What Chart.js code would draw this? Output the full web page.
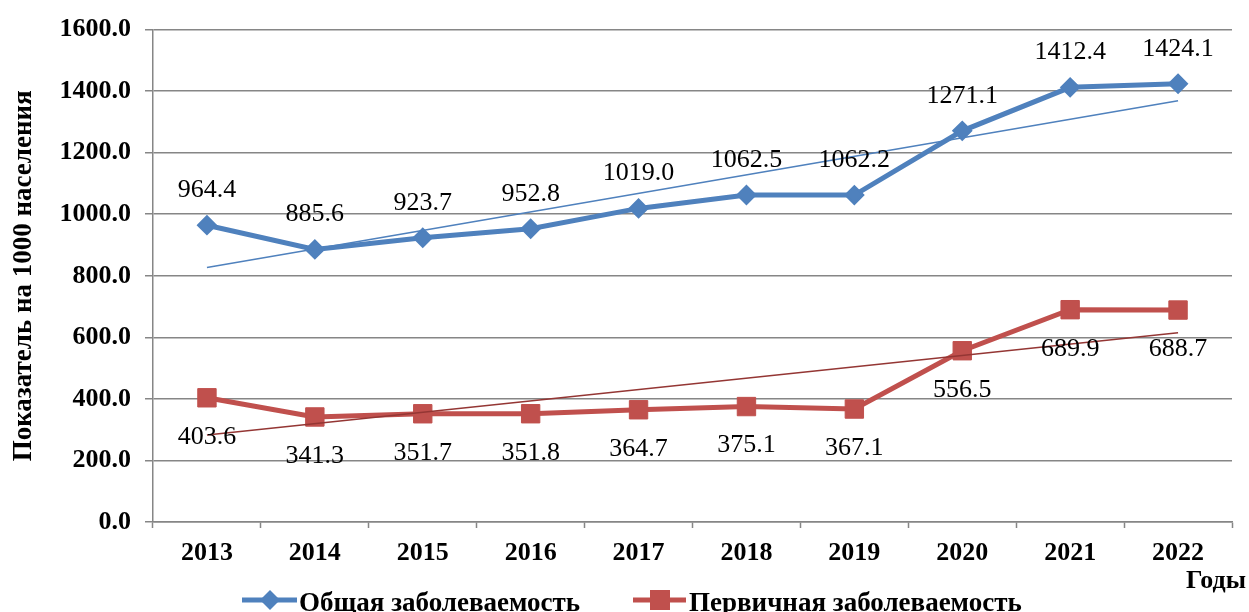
<!DOCTYPE html>
<html>
<head>
<meta charset="utf-8">
<style>
    body { margin: 0; background: #fff; }
    #wrap { width: 1249px; height: 612px; position: relative; }
</style>
</head>
<body>
<div id="wrap"><canvas id="myChart"></canvas></div>
<script src="https://cdn.jsdelivr.net/npm/chart.js@4.4.2/dist/chart.umd.min.js"></script>
<script>
// data
const years = ['2013', '2014', '2015', '2016', '2017', '2018', '2019', '2020', '2021', '2022'];
const totalRate = [964.4, 885.6, 923.7, 952.8, 1019.0, 1062.5, 1062.2, 1271.1, 1412.4, 1424.1];
const primaryRate = [403.6, 341.3, 351.7, 351.8, 364.7, 375.1, 367.1, 556.5, 689.9, 688.7];
// trend lines: only the end points (straight lines)
const totalTrend = [827, null, null, null, null, null, null, null, null, 1369];
const primaryTrend = [283, null, null, null, null, null, null, null, null, 615];
const seriesNames = ['Общая заболеваемость', 'Первичная заболеваемость'];

const BLUE = '#4F81BD';
const RED = '#C0504D';
const DARK_RED = '#943634';
const FONT = "'Liberation Serif', 'Times New Roman', serif";

// value labels above (blue) / below (red) the points
const valueLabels = {
    id: 'valueLabels',
    afterDatasetsDraw(chart) {
        const ctx = chart.ctx;
        ctx.save();
        ctx.font = '26px ' + FONT;
        ctx.fillStyle = '#000';
        ctx.textAlign = 'center';
        ctx.textBaseline = 'middle';
        [[0, -35], [1, 39]].forEach(([i, dy]) => {
            const meta = chart.getDatasetMeta(i);
            meta.data.forEach((pt, k) => {
                ctx.fillText(chart.data.datasets[i].data[k].toFixed(1), pt.x, pt.y + dy);
            });
        });
        ctx.restore();
    }
};

// legend and the "Годы" caption
const extras = {
    id: 'extras',
    afterDraw(chart) {
        const ctx = chart.ctx;
        ctx.save();
        // legend item 1
        ctx.strokeStyle = BLUE;
        ctx.lineWidth = 5;
        ctx.beginPath(); ctx.moveTo(242, 600); ctx.lineTo(297, 600); ctx.stroke();
        ctx.fillStyle = BLUE;
        ctx.beginPath();
        ctx.moveTo(270, 590); ctx.lineTo(280, 600); ctx.lineTo(270, 610); ctx.lineTo(260, 600);
        ctx.closePath(); ctx.fill();
        // legend item 2
        ctx.strokeStyle = RED;
        ctx.beginPath(); ctx.moveTo(633, 600); ctx.lineTo(686, 600); ctx.stroke();
        ctx.fillStyle = RED;
        ctx.fillRect(650, 590, 20, 20);

        ctx.fillStyle = '#000';
        ctx.font = 'bold 27px ' + FONT;
        ctx.textBaseline = 'alphabetic';
        ctx.textAlign = 'left';
        ctx.fillText(seriesNames[0], 299, 611);
        ctx.fillText(seriesNames[1], 689, 611);
        ctx.font = 'bold 26px ' + FONT;
        ctx.textAlign = 'right';
        ctx.fillText('Годы', 1246, 588);
        ctx.restore();
    }
};

const data = {
    labels: years,
    datasets: [
        {
            label: seriesNames[0],
            data: totalRate,
            borderColor: BLUE,
            backgroundColor: BLUE,
            borderWidth: 5,
            pointStyle: 'rectRot',
            pointRadius: 9,
            pointBorderWidth: 2,
            order: 2
        },
        {
            label: seriesNames[1],
            data: primaryRate,
            borderColor: RED,
            backgroundColor: RED,
            borderWidth: 5,
            pointStyle: 'rect',
            pointRadius: 13,
            pointBorderWidth: 1,
            order: 2
        },
        {
            label: 'trend1',
            data: totalTrend,
            borderColor: BLUE,
            borderWidth: 1.5,
            pointRadius: 0,
            spanGaps: true,
            order: 1
        },
        {
            label: 'trend2',
            data: primaryTrend,
            borderColor: DARK_RED,
            borderWidth: 1.5,
            pointRadius: 0,
            spanGaps: true,
            order: 1
        }
    ]
};

const config = {
    type: 'line',
    data,
    options: {
        responsive: true,
        maintainAspectRatio: false,
        animation: false,
        layout: { padding: { top: 27, right: 17, bottom: 0, left: 0 } },
        plugins: {
            legend: { display: false },
            tooltip: { enabled: false }
        },
        scales: {
            x: {
                offset: true,
                afterFit: (s) => { s.height = 90; },
                grid: {
                    offset: true,
                    drawOnChartArea: false,
                    tickLength: 6,
                    tickColor: '#868686',
                    tickWidth: 1.5
                },
                border: { color: '#868686', width: 1.5 },
                ticks: {
                    color: '#000',
                    padding: 10,
                    font: { family: FONT, size: 26, weight: 'bold' }
                }
            },
            y: {
                min: 0,
                max: 1600,
                afterFit: (s) => { s.width = 153; },
                grid: {
                    color: '#868686',
                    lineWidth: 1.5,
                    tickLength: 8
                },
                border: { color: '#868686', width: 1.5 },
                ticks: {
                    stepSize: 200,
                    color: '#000',
                    padding: 14,
                    font: { family: FONT, size: 26, weight: 'bold' },
                    callback: (v) => v.toFixed(1)
                },
                title: {
                    display: true,
                    text: 'Показатель на 1000 населения',
                    color: '#000',
                    padding: { top: 8, bottom: 0 },
                    font: { family: FONT, size: 27, weight: 'bold' }
                }
            }
        }
    },
    plugins: [valueLabels, extras]
};

let myChart = new Chart(document.getElementById('myChart'), config);
</script>
</body>
</html>
